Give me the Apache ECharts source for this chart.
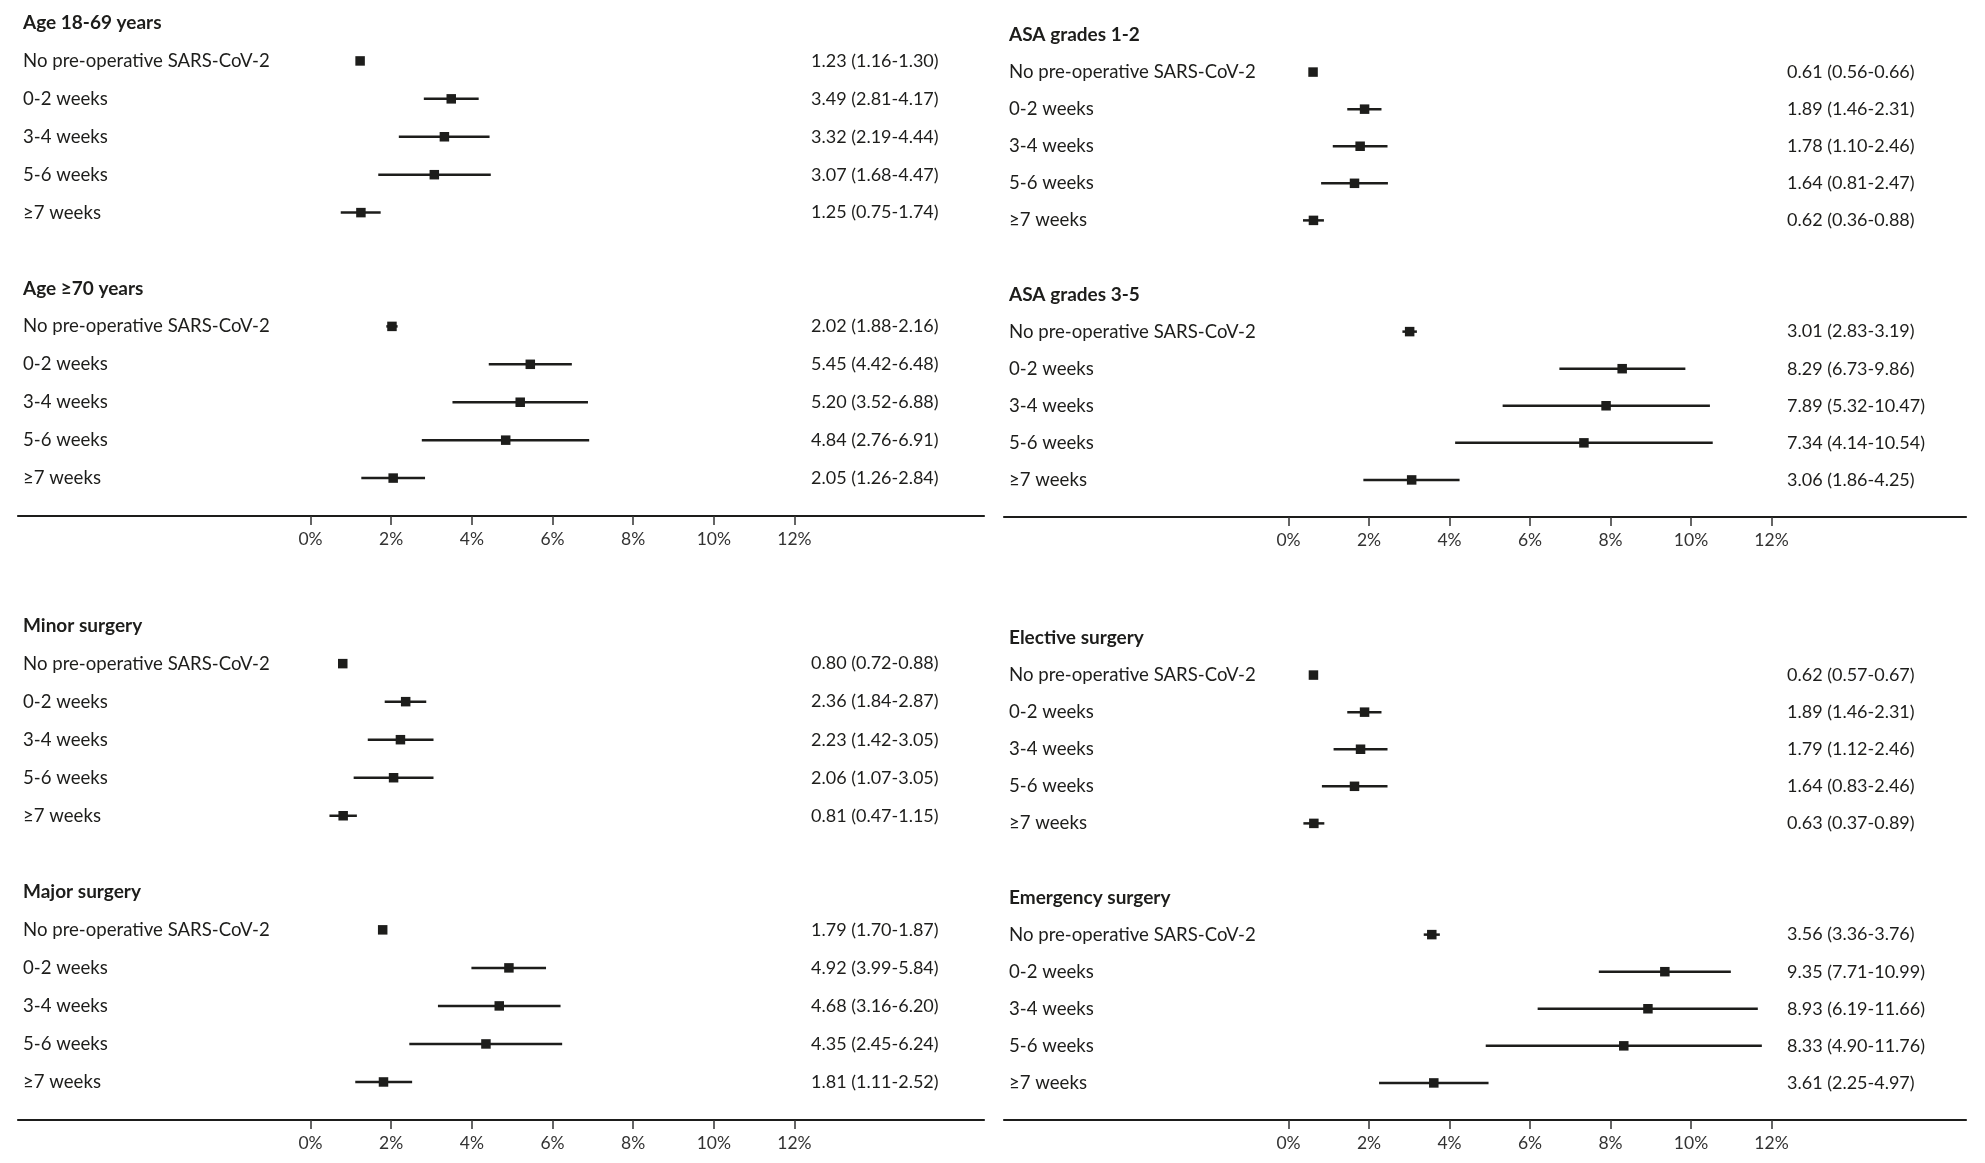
<!DOCTYPE html>
<html>
<head>
<meta charset="utf-8">
<script src="https://cdn.jsdelivr.net/npm/echarts@6/dist/echarts.min.js"></script>
<style>
html,body{margin:0;padding:0;background:#fff;}
#chart{width:1985px;height:1163px;}
</style>
</head>
<body>
<div id="chart"></div>
<script>
// ---------- data ----------
const rowLabels = ['No pre-operative SARS-CoV-2', '0-2 weeks', '3-4 weeks', '5-6 weeks', '≥7 weeks'];
const tickValues = [0, 2, 4, 6, 8, 10, 12];

const titleAge1869 = 'Age 18-69 years';
const age1869Est = [1.23, 3.49, 3.32, 3.07, 1.25];
const age1869Lo  = [1.16, 2.81, 2.19, 1.68, 0.75];
const age1869Hi  = [1.30, 4.17, 4.44, 4.47, 1.74];

const titleAge70 = 'Age ≥70 years';
const age70Est = [2.02, 5.45, 5.20, 4.84, 2.05];
const age70Lo  = [1.88, 4.42, 3.52, 2.76, 1.26];
const age70Hi  = [2.16, 6.48, 6.88, 6.91, 2.84];

const titleMinor = 'Minor surgery';
const minorEst = [0.80, 2.36, 2.23, 2.06, 0.81];
const minorLo  = [0.72, 1.84, 1.42, 1.07, 0.47];
const minorHi  = [0.88, 2.87, 3.05, 3.05, 1.15];

const titleMajor = 'Major surgery';
const majorEst = [1.79, 4.92, 4.68, 4.35, 1.81];
const majorLo  = [1.70, 3.99, 3.16, 2.45, 1.11];
const majorHi  = [1.87, 5.84, 6.20, 6.24, 2.52];

const titleAsa12 = 'ASA grades 1-2';
const asa12Est = [0.61, 1.89, 1.78, 1.64, 0.62];
const asa12Lo  = [0.56, 1.46, 1.10, 0.81, 0.36];
const asa12Hi  = [0.66, 2.31, 2.46, 2.47, 0.88];

const titleAsa35 = 'ASA grades 3-5';
const asa35Est = [3.01, 8.29, 7.89, 7.34, 3.06];
const asa35Lo  = [2.83, 6.73, 5.32, 4.14, 1.86];
const asa35Hi  = [3.19, 9.86, 10.47, 10.54, 4.25];

const titleElective = 'Elective surgery';
const electiveEst = [0.62, 1.89, 1.79, 1.64, 0.63];
const electiveLo  = [0.57, 1.46, 1.12, 0.83, 0.37];
const electiveHi  = [0.67, 2.31, 2.46, 2.46, 0.89];

const titleEmergency = 'Emergency surgery';
const emergencyEst = [3.56, 9.35, 8.93, 8.33, 3.61];
const emergencyLo  = [3.36, 7.71, 6.19, 4.90, 2.25];
const emergencyHi  = [3.76, 10.99, 11.66, 11.76, 4.97];

// ---------- layout ----------
const panels = [
  { groups: [[titleAge1869, age1869Est, age1869Lo, age1869Hi], [titleAge70, age70Est, age70Lo, age70Hi]],
    left: 18, top: 23, width: 966, height: 493, zeroOff: 292.5, ppu: 40.33, valueX: 811 },
  { groups: [[titleMinor, minorEst, minorLo, minorHi], [titleMajor, majorEst, majorLo, majorHi]],
    left: 18, top: 625.6, width: 966, height: 494.4, zeroOff: 292.5, ppu: 40.33, valueX: 811 },
  { groups: [[titleAsa12, asa12Est, asa12Lo, asa12Hi], [titleAsa35, asa35Est, asa35Lo, asa35Hi]],
    left: 1004, top: 35, width: 962, height: 482, zeroOff: 284.5, ppu: 40.25, valueX: 1787 },
  { groups: [[titleElective, electiveEst, electiveLo, electiveHi], [titleEmergency, emergencyEst, emergencyLo, emergencyHi]],
    left: 1004, top: 638, width: 962, height: 482, zeroOff: 284.5, ppu: 40.25, valueX: 1787 }
];

const FONT = 'Lato, "Noto Sans", sans-serif';
const INK = '#1d1d1b';
const fmt = v => v.toFixed(2);

function renderItem(params, api) {
  const y = api.value(1);
  const p = api.coord([api.value(0), y]);
  const a = api.coord([api.value(2), y]);
  const b = api.coord([api.value(3), y]);
  const s = 9.5;
  return {
    type: 'group',
    children: [
      { type: 'line', shape: { x1: a[0], y1: a[1], x2: b[0], y2: b[1] }, style: { stroke: INK, lineWidth: 2.5 } },
      { type: 'rect', shape: { x: p[0] - s / 2, y: p[1] - s / 2, width: s, height: s }, style: { fill: INK } }
    ]
  };
}

const grid = [], xAxis = [], yAxis = [], series = [];
panels.forEach((pn, i) => {
  grid.push({ left: pn.left, top: pn.top, width: pn.width, height: pn.height, containLabel: false });
  const min = -pn.zeroOff / pn.ppu;
  const max = min + pn.width / pn.ppu;
  xAxis.push({
    type: 'value', gridIndex: i, min: min, max: max,
    splitLine: { show: false },
    axisLine: { show: true, lineStyle: { color: INK, width: 2.2 } },
    axisTick: { show: true, customValues: tickValues, length: 9, lineStyle: { color: '#333', width: 1.5 } },
    axisLabel: { show: true, customValues: tickValues, formatter: v => v + '%', margin: 14,
                 fontFamily: FONT, fontSize: 17.5, color: '#333' }
  });
  const names = [], values = [], titleIdx = new Set(), data = [];
  pn.groups.forEach((g, gi) => {
    titleIdx.add(names.length);
    names.push(g[0]); values.push('');
    rowLabels.forEach((lab, r) => {
      data.push([g[1][r], names.length, g[2][r], g[3][r]]);
      names.push(lab);
      values.push(fmt(g[1][r]) + ' (' + fmt(g[2][r]) + '-' + fmt(g[3][r]) + ')');
    });
    names.push(''); values.push('');
  });
  const baseY = {
    type: 'category', gridIndex: i, inverse: true, boundaryGap: false,
    axisLine: { show: false }, axisTick: { show: false }, splitLine: { show: false }
  };
  yAxis.push(Object.assign({}, baseY, {
    position: 'left', data: names,
    axisLabel: {
      inside: true, margin: 5, interval: 0,
      formatter: (v, idx) => titleIdx.has(idx) ? '{t|' + v + '}' : '{r|' + v + '}',
      rich: {
        t: { fontFamily: FONT, fontSize: 19, fontWeight: 'bold', color: INK },
        r: { fontFamily: FONT, fontSize: 18.6, color: INK }
      }
    }
  }));
  yAxis.push(Object.assign({}, baseY, {
    position: 'right', data: values,
    axisLabel: {
      inside: true, margin: pn.left + pn.width - pn.valueX, interval: 0, align: 'left',
      fontFamily: FONT, fontSize: 18, color: INK
    }
  }));
  series.push({
    type: 'custom', xAxisIndex: i, yAxisIndex: i * 2,
    renderItem: renderItem,
    encode: { x: [0, 2, 3], y: 1 },
    data: data, silent: true, clip: false
  });
});

const chart = echarts.init(document.getElementById('chart'), null, { renderer: 'canvas' });
chart.setOption({
  backgroundColor: '#ffffff',
  animation: false,
  grid: grid, xAxis: xAxis, yAxis: yAxis, series: series
});
</script>
</body>
</html>
